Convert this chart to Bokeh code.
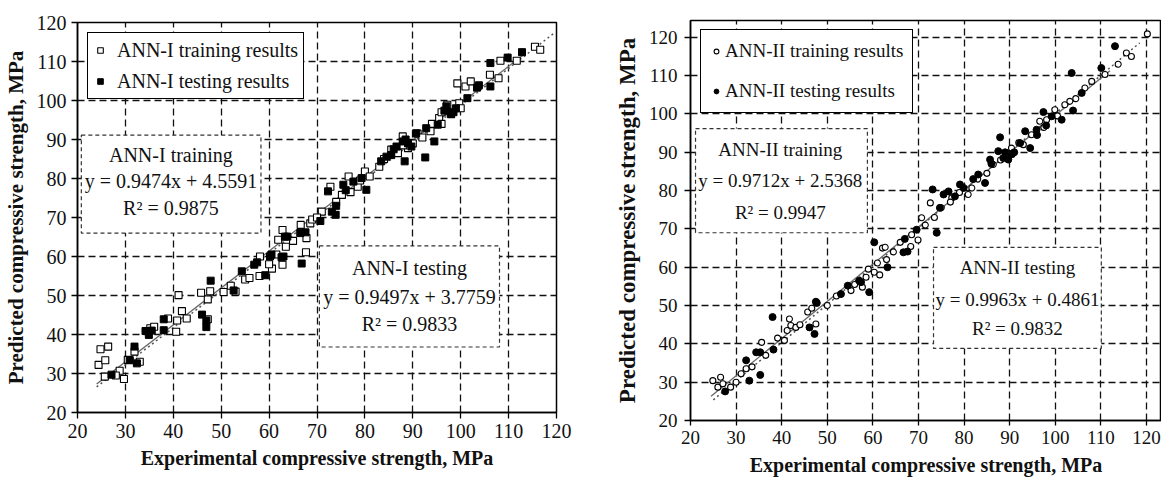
from bokeh.plotting import figure
from bokeh.layouts import row
from bokeh.models import Legend, LegendItem, FixedTicker
from bokeh.core.properties import value
from bokeh.embed import file_html
from bokeh.resources import INLINE

# ---------------- data ----------------
ticks = [20, 30, 40, 50, 60, 70, 80, 90, 100, 110, 120]
x_label = "Experimental compressive strength, MPa"
y_label = "Predicted compressive strength, MPa"

# ANN-I (left)
ann1_train_x = [24.8, 26.4, 24.4, 25.8, 25.7, 28.8, 29.7, 31.9, 35.2, 38.9, 40.8, 40.6, 41.1, 41.8, 42.8,
                47.2, 45.8, 47.7, 47.2, 50.5, 55.0, 55.9, 58.1, 58.0, 60.6, 62.8, 67.7, 67.8, 61.9,
                62.8, 66.6, 68.6, 71.0, 72.8, 75.2, 76.6, 78.5, 80.0, 81.0, 85.5, 86.9, 89.0, 87.9,
                93.7, 95.5, 97.2, 99.7, 99.3, 101.0, 102.1, 106.1, 107.9, 108.3, 111.7, 115.5, 116.6,
                74.0, 77.0, 79.0, 83.0, 84.0, 88.0, 90.0, 91.0, 92.0, 94.0, 96.0, 98.0, 100.0, 96.0,
                63.5, 65.0, 69.0, 70.0, 53.0, 52.0, 36.0, 33.0, 30.5, 28.0, 60.0, 61.5]
ann1_train_y = [36.2, 36.9, 32.2, 33.4, 29.2, 30.7, 28.6, 35.6, 41.6, 44.1, 43.6, 40.7, 50.1, 46.0, 44.1,
                43.9, 50.7, 51.1, 49.0, 50.9, 54.1, 54.5, 60.0, 55.0, 56.9, 57.9, 61.1, 64.7, 64.3,
                66.8, 68.1, 68.5, 71.5, 77.9, 75.8, 80.5, 77.9, 81.8, 80.5, 87.4, 86.5, 87.8, 90.8,
                92.1, 95.5, 98.9, 99.3, 104.4, 103.6, 104.9, 106.6, 105.7, 110.2, 110.2, 113.8, 113.0,
                74.0, 76.5, 79.5, 83.0, 85.0, 88.5, 89.0, 91.5, 90.5, 94.0, 97.0, 96.5, 98.0, 94.0,
                62.5, 64.0, 69.5, 70.0, 51.0, 52.5, 42.0, 33.0, 33.5, 29.5, 58.0, 60.5]
ann1_test_x = [27.1, 30.9, 32.4, 31.9, 34.2, 34.9, 38.0, 38.0, 46.0, 46.9, 46.9, 47.8, 52.6, 54.3, 56.9,
               59.2, 60.2, 62.6, 66.8, 63.3, 66.5, 63.8, 67.6, 70.7, 73.1, 73.9, 72.3, 75.5, 77.6,
               79.3, 80.3, 83.4, 84.5, 86.6, 87.9, 88.3, 89.7, 90.7, 92.6, 94.5, 92.8, 95.2, 96.6,
               97.9, 99.0, 101.4, 103.4, 103.8, 106.2, 106.2, 109.8, 112.8,
               85.5, 86.0, 88.5, 89.0, 76.0, 97.0, 98.5, 74.0, 35.5, 57.5, 60.5, 63.0]
ann1_test_y = [29.7, 33.4, 32.6, 36.9, 40.9, 39.9, 41.1, 43.9, 45.1, 43.6, 41.9, 53.8, 51.3, 56.2, 57.9,
               55.2, 60.0, 59.8, 58.2, 65.1, 66.0, 65.1, 66.2, 69.1, 71.5, 70.7, 76.7, 78.4, 79.2,
               80.1, 77.1, 84.4, 85.6, 88.2, 89.5, 84.4, 88.2, 91.6, 85.4, 89.5, 92.9, 93.8, 97.4,
               96.8, 98.0, 100.6, 103.3, 103.9, 103.6, 109.6, 111.0, 112.4,
               86.0, 87.5, 90.0, 89.0, 77.0, 98.5, 97.0, 73.0, 41.0, 58.5, 60.5, 60.0]

# ANN-II (right)
ann2_train_x = [24.9, 26.6, 26.0, 27.1, 28.8, 30.0, 31.1, 32.2, 35.6, 39.1, 40.6, 41.2, 41.7, 42.0, 43.1,
                47.5, 45.7, 46.6, 55.2, 58.5, 57.7, 60.3, 61.0, 62.1, 68.3, 69.9,
                62.7, 68.5, 70.7, 72.6, 77.3, 80.9, 81.7, 86.4, 89.3, 90.4, 94.8, 96.6, 98.1, 99.9,
                102.1, 103.2, 106.5, 108.0, 110.9, 113.8, 115.6, 116.7, 120.2,
                33.5, 36.5, 44.0, 50.0, 52.0, 56.0, 59.0, 61.5, 63.0, 64.5, 66.0, 71.5, 75.0, 79.0,
                83.0, 85.0, 88.0, 92.0, 93.0, 97.5, 100.5, 104.5, 73.5, 77.0]
ann2_train_y = [30.4, 31.3, 28.7, 29.6, 28.7, 30.0, 32.2, 33.5, 40.4, 41.5, 40.9, 43.5, 46.5, 44.8, 44.3,
                45.2, 48.3, 49.3, 53.9, 57.4, 54.8, 58.7, 61.1, 65.0, 65.4, 67.1,
                65.2, 68.5, 72.9, 76.8, 78.1, 79.0, 80.7, 86.8, 89.8, 91.1, 94.6, 98.1, 98.5, 101.1,
                102.4, 103.3, 106.8, 108.5, 110.3, 113.0, 115.9, 115.0, 120.9,
                34.0, 37.0, 45.0, 50.0, 52.5, 55.5, 59.5, 58.0, 62.0, 64.0, 66.5, 71.0, 75.5, 79.5,
                83.0, 84.5, 88.0, 92.5, 92.0, 96.5, 99.5, 104.0, 73.0, 77.0]
ann2_test_x = [27.6, 32.2, 32.9, 34.4, 35.3, 35.3, 38.0, 38.2, 46.1, 47.2, 47.7, 53.0, 54.5, 57.4, 59.2,
               63.2, 60.3, 66.7, 67.6, 67.0, 74.0, 69.6, 73.1, 74.7, 75.5, 76.6, 79.1, 79.9, 83.1,
               84.6, 85.7, 87.9, 87.5, 88.6, 89.7, 92.3, 93.4, 94.5, 95.9, 97.4, 99.2, 101.4, 103.9,
               103.6, 105.8, 110.1, 113.1,
               86.0, 89.0, 90.5, 96.0, 91.0, 98.0, 82.0, 78.0, 47.5, 57.0]
ann2_test_y = [27.6, 35.7, 30.4, 37.8, 37.8, 31.9, 47.0, 38.5, 44.3, 42.6, 50.7, 53.0, 55.2, 56.1, 53.5,
               60.0, 66.5, 63.9, 64.1, 67.4, 69.0, 69.8, 80.3, 75.5, 79.0, 79.8, 81.6, 80.7, 84.2,
               82.0, 88.1, 93.9, 90.3, 88.5, 88.1, 92.4, 95.5, 91.1, 95.9, 100.5, 99.4, 98.5, 100.9,
               110.7, 105.5, 112.0, 117.7,
               87.0, 90.0, 89.5, 94.5, 90.0, 97.0, 83.0, 78.5, 51.0, 56.5]

# fits: slope, intercept, x extent
ann1_train_fit = (0.9474, 4.5591, [24.0, 113.0])
ann1_test_fit = (0.9497, 3.7759, [24.0, 119.5])
ann2_train_fit = (0.9712, 2.5368, [24.5, 112.0])
ann2_test_fit = (0.9963, 0.4861, [25.0, 118.5])

ann1_train_text = ["ANN-I training", "y = 0.9474x + 4.5591", "R\u00b2 = 0.9875"]
ann1_test_text = ["ANN-I testing", "y = 0.9497x + 3.7759", "R\u00b2 = 0.9833"]
ann2_train_text = ["ANN-II training", "y = 0.9712x + 2.5368", "R\u00b2 = 0.9947"]
ann2_test_text = ["ANN-II testing", "y = 0.9963x + 0.4861", "R\u00b2 = 0.9832"]

SERIF = "Liberation Serif"


def style(p, tick_size, xlabel_size, ylabel_size):
    for ax in (p.xaxis, p.yaxis):
        ax.ticker = FixedTicker(ticks=ticks)
        ax.axis_line_color = "black"
        ax.axis_line_width = 1.5
        ax.major_tick_line_color = "black"
        ax.major_tick_line_width = 1.3
        ax.major_tick_out = 6
        ax.major_tick_in = 0
        ax.minor_tick_line_color = None
        ax.major_label_text_font = SERIF
        ax.major_label_text_font_size = tick_size
        ax.major_label_text_color = "#111111"
        ax.axis_label_text_font = SERIF
        ax.axis_label_text_font_style = "bold"
        ax.axis_label_text_color = "#111111"
        ax.major_label_standoff = 5
    p.xaxis.axis_label_text_font_size = xlabel_size
    p.yaxis.axis_label_text_font_size = ylabel_size
    p.xaxis.axis_label = x_label
    p.yaxis.axis_label = y_label
    p.yaxis.axis_label_standoff = 6
    for g in (p.xgrid, p.ygrid):
        g.grid_line_color = "#111111"
        g.grid_line_dash = "7 4"
        g.grid_line_width = 1.3
    p.outline_line_color = "black"
    p.outline_line_width = 1.5
    p.outline_line_alpha = 1.0
    p.background_fill_color = "white"
    p.border_fill_color = "white"


def note(p, box, tx, ys, lines, size):
    p.quad(left=[box[0]], right=[box[1]], bottom=[box[2]], top=[box[3]],
           fill_color="white", line_color="#333333", line_width=1.2, line_dash="4 3")
    p.text(x=[tx] * 3, y=ys, text=lines, text_align="center", text_baseline="middle",
           text_font=value(SERIF), text_font_size=size, text_color="#111111")


def fit_lines(p, tr, te):
    xs = tr[2]
    p.line(xs, [tr[0] * v + tr[1] for v in xs], line_color="#666666", line_width=1.3)
    xs = te[2]
    p.line(xs, [te[0] * v + te[1] for v in xs], line_color="#555555", line_width=1.5, line_dash="2 3")


# ---------------- left panel ----------------
p1 = figure(width=580, height=470, x_range=(20, 120), y_range=(20, 120),
            output_backend="svg", toolbar_location=None,
            min_border_left=76, min_border_right=24, min_border_top=20, min_border_bottom=60)
p1.margin = (2, 0, 0, 0)
style(p1, "20px", "20px", "21px")
p1.xaxis.major_label_standoff = 5
p1.xaxis.axis_label_standoff = 6
note(p1, (20.8, 58.3, 66.0, 91.1), 39.5, [86.0, 79.3, 72.5], ann1_train_text, "20px")
note(p1, (70.5, 108.1, 36.8, 62.7), 89.3, [57.0, 49.6, 42.6], ann1_test_text, "20px")
fit_lines(p1, ann1_train_fit, ann1_test_fit)
r1a = p1.scatter(ann1_train_x, ann1_train_y, marker="square", size=7,
                 fill_color="white", line_color="black", line_width=1.1)
r1b = p1.scatter(ann1_test_x, ann1_test_y, marker="square", size=7,
                 fill_color="black", line_color="black", line_width=1.0)
leg1 = Legend(items=[LegendItem(label="ANN-I training results", renderers=[r1a]),
                     LegendItem(label="ANN-I testing results", renderers=[r1b])],
              location=(10, 313), padding=5, spacing=7, label_height=24, glyph_height=24,
              glyph_width=14, label_standoff=10, label_text_font=SERIF,
              label_text_font_size="20px", label_text_color="#111111",
              border_line_color="black", border_line_width=1.5, border_line_alpha=1.0,
              background_fill_color="white", background_fill_alpha=1.0, margin=0)
p1.add_layout(leg1, "center")

# ---------------- right panel ----------------
p2 = figure(width=581, height=480, x_range=(20, 123.3), y_range=(20, 124.4),
            output_backend="svg", toolbar_location=None,
            min_border_left=110, min_border_right=0, min_border_top=20, min_border_bottom=60)
style(p2, "19px", "20px", "23px")
p2.xaxis.major_tick_out = 5
p2.xaxis.major_label_standoff = 5
p2.xaxis.axis_label_standoff = 7
p2.yaxis.major_label_standoff = 7
note(p2, (21.1, 58.8, 69.0, 96.2), 39.7, [90.8, 82.6, 74.4], ann2_train_text, "19px")
note(p2, (73.3, 110.1, 38.8, 65.2), 91.7, [60.0, 51.5, 44.0], ann2_test_text, "19px")
fit_lines(p2, ann2_train_fit, ann2_test_fit)
r2a = p2.scatter(ann2_train_x, ann2_train_y, marker="circle", size=6,
                 fill_color="white", line_color="black", line_width=1.1)
r2b = p2.scatter(ann2_test_x, ann2_test_y, marker="circle", size=7,
                 fill_color="black", line_color="black", line_width=1.0)
leg2 = Legend(items=[LegendItem(label="ANN-II training results", renderers=[r2a]),
                     LegendItem(label="ANN-II testing results", renderers=[r2b])],
              location=(10, 307), padding=9, spacing=16, label_height=24, glyph_height=24,
              glyph_width=12, label_standoff=3, label_text_font=SERIF,
              label_text_font_size="19px", label_text_color="#111111",
              border_line_color="black", border_line_width=1.5, border_line_alpha=1.0,
              background_fill_color="white", background_fill_alpha=1.0, margin=0)
p2.add_layout(leg2, "center")

layout = row(p1, p2)
open("out.html", "w").write(file_html(layout, INLINE))
